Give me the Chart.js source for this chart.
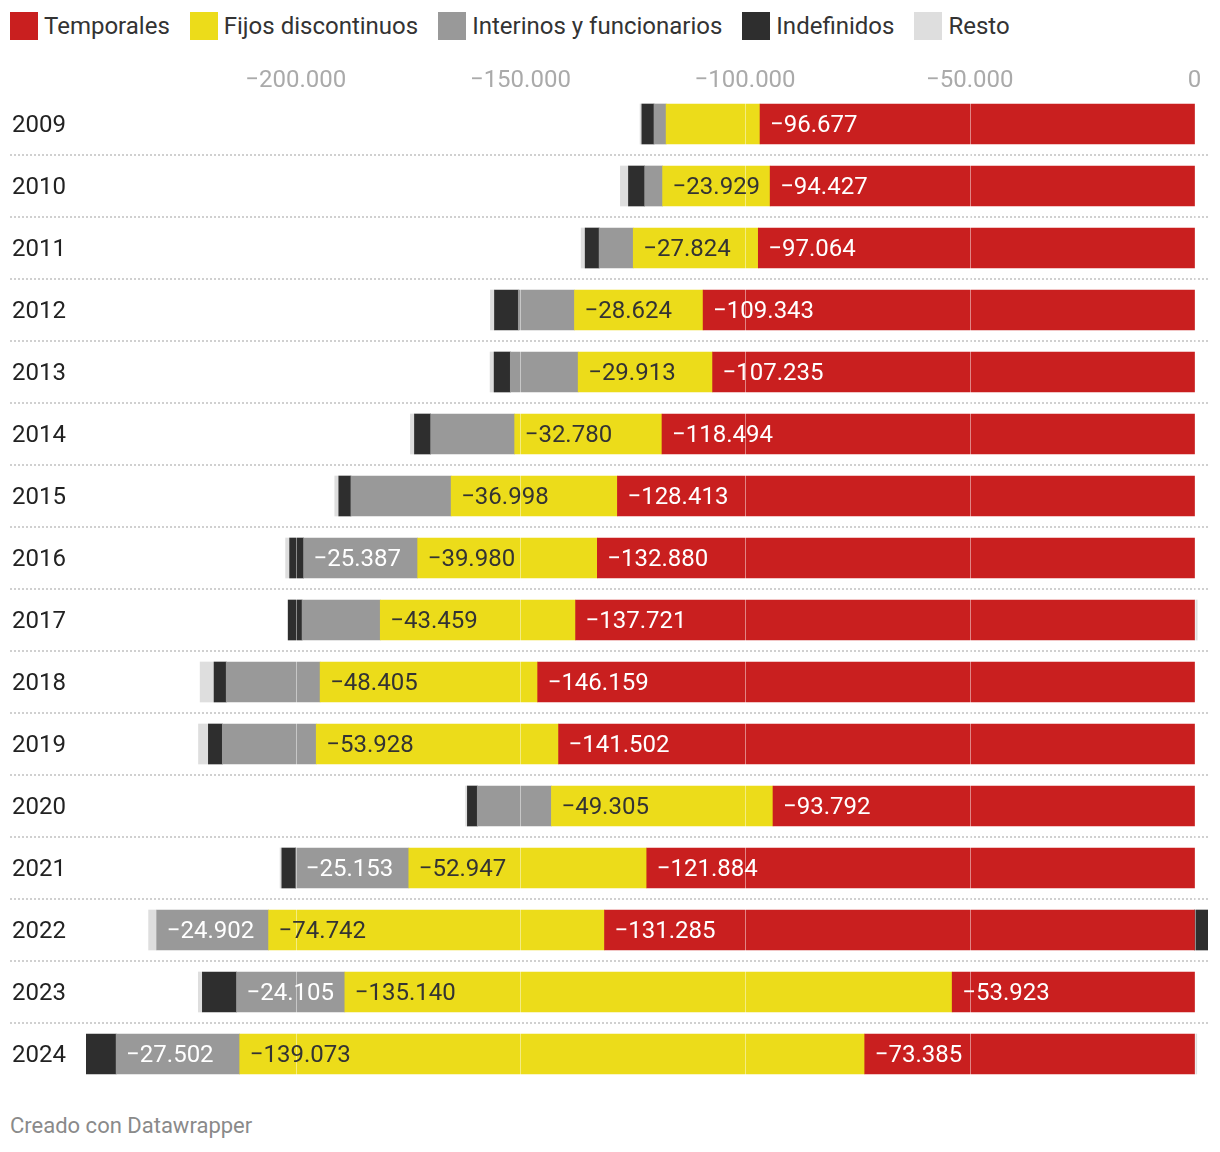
<!DOCTYPE html>
<html><head><meta charset="utf-8">
<script src="https://cdn.jsdelivr.net/npm/chart.js@4.4.1/dist/chart.umd.min.js"></script>
<style>
body{margin:0;background:#fff;font-family:Roboto,sans-serif;}
#legend{position:absolute;left:10px;top:12px;display:flex;align-items:center;font:24px Roboto,sans-serif;color:#333;}
#legend .it{display:flex;align-items:center;margin-right:20px;}
#legend .sw{width:28px;height:28px;margin-right:6px;}
#wrap{position:absolute;left:0;top:0;width:1220px;height:1100px;}
#footer{position:absolute;left:10px;top:1113px;font:22px Roboto,sans-serif;color:#8a8a8a;}
</style></head>
<body>
<div id="legend"></div>
<div id="wrap"><canvas id="c"></canvas></div>
<div id="footer">Creado con Datawrapper</div>
<script>
const years = ['2009','2010','2011','2012','2013','2014','2015','2016','2017','2018','2019','2020','2021','2022','2023','2024'];
const seriesNames = ['Temporales','Fijos discontinuos','Interinos y funcionarios','Indefinidos','Resto'];
const temporales = [-96677,-94427,-97064,-109343,-107235,-118494,-128413,-132880,-137721,-146159,-141502,-93792,-121884,-131285,-53923,-73385];
const fijos = [-20900,-23929,-27824,-28624,-29913,-32780,-36998,-39980,-43459,-48405,-53928,-49305,-52947,-74742,-135140,-139073];
const interinos = [-2700,-4000,-7600,-12500,-15100,-18700,-22300,-25387,-17400,-20900,-20900,-16500,-25153,-24902,-24105,-27502];
const indefinidos = [-2700,-3600,-3100,-5300,-3600,-3600,-2700,-3100,-3100,-2700,-3100,-2200,-3100,3000,-7600,-6700];
const resto = [-400,-1800,-900,-900,-900,-900,-900,-900,600,-3100,-2200,-400,-400,-1800,-900,500];
const tickValues = [-200000,-150000,-100000,-50000,0];

const colors = ['#c91f1f','#ecdc1a','#999999','#2e2e2e','#dedede'];
const labelColors = ['#ffffff','#333333','#ffffff',null,null];
const allSeries = [temporales,fijos,interinos,indefinidos,resto];

function fmt(v){
  const s = Math.abs(v).toString().replace(/\B(?=(\d{3})+(?!\d))/g,'.');
  return (v<0?'\u2212':'')+s;
}

// legend
const lg = document.getElementById('legend');
seriesNames.forEach((n,i)=>{
  const it=document.createElement('div');it.className='it';
  const sw=document.createElement('div');sw.className='sw';sw.style.background=colors[i];
  const tx=document.createElement('span');tx.textContent=n;
  it.appendChild(sw);it.appendChild(tx);lg.appendChild(it);
});

// extent from data
let minV=0,maxV=0;
years.forEach((y,j)=>{
  let neg=0,pos=0;
  allSeries.forEach(s=>{ if(s[j]<0) neg+=s[j]; else pos+=s[j]; });
  minV=Math.min(minV,neg); maxV=Math.max(maxV,pos);
});

const overlay = {
  id:'overlay',
  beforeDatasetsDraw(chart){
    const ctx=chart.ctx, a=chart.chartArea, ys=chart.scales.y;
    ctx.save();
    ctx.strokeStyle='#d0d0d0';ctx.lineWidth=2;ctx.setLineDash([2,2]);
    for(let i=1;i<years.length;i++){
      const yy=Math.round((ys.getPixelForValue(i-1)+ys.getPixelForValue(i))/2)+0;
      ctx.beginPath();ctx.moveTo(10,yy);ctx.lineTo(a.right,yy);ctx.stroke();
    }
    ctx.restore();
  },
  afterDatasetsDraw(chart){
    const ctx=chart.ctx, a=chart.chartArea, xs=chart.scales.x;
    ctx.save();
    ctx.strokeStyle='rgba(255,255,255,0.45)';ctx.lineWidth=1;
    tickValues.forEach(v=>{
      const px=Math.round(xs.getPixelForValue(v))+0.5;
      ctx.beginPath();ctx.moveTo(px,a.top);ctx.lineTo(px,a.bottom);ctx.stroke();
    });
    ctx.font='24px Roboto, sans-serif';ctx.textBaseline='middle';ctx.textAlign='left';
    chart.data.datasets.forEach((ds,di)=>{
      if(!labelColors[di])return;
      const meta=chart.getDatasetMeta(di);
      meta.data.forEach((el,j)=>{
        const p=el.getProps(['x','y','base'],true);
        const w=Math.abs(p.x-p.base);
        const t=fmt(ds.data[j]);
        const tw=ctx.measureText(t).width;
        if(w>=tw+16){
          ctx.fillStyle=labelColors[di];
          ctx.fillText(t,Math.min(p.x,p.base)+10,p.y+2);
        }
      });
    });
    ctx.restore();
  }
};

new Chart(document.getElementById('c'),{
  type:'bar',
  data:{
    labels:years,
    datasets:allSeries.map((s,i)=>({label:seriesNames[i],data:s,backgroundColor:colors[i],borderWidth:0,barThickness:40,stack:'a'}))
  },
  options:{
    indexAxis:'y',responsive:true,maintainAspectRatio:false,animation:false,
    layout:{padding:{left:12,right:12,top:63,bottom:15}},
    plugins:{legend:{display:false},tooltip:{enabled:false}},
    scales:{
      x:{type:'linear',position:'top',stacked:true,min:minV,max:maxV,
        grid:{display:false,drawTicks:false},border:{display:false},
        afterBuildTicks(s){s.ticks=tickValues.map(v=>({value:v}));},
        afterFit(s){s.height=30;},
        ticks:{color:'#aaaaaa',font:{family:'Roboto',size:24,lineHeight:1.0},padding:0,maxRotation:0,autoSkip:false,callback:v=>fmt(v)}},
      y:{type:'category',stacked:true,
        grid:{display:false,drawTicks:false},border:{display:false},
        afterFit(s){s.width=74;},
        ticks:{color:'#222222',font:{family:'Roboto',size:24},crossAlign:'far',padding:0,labelOffset:2}}
    }
  },
  plugins:[overlay]
});
</script>
</body></html>
